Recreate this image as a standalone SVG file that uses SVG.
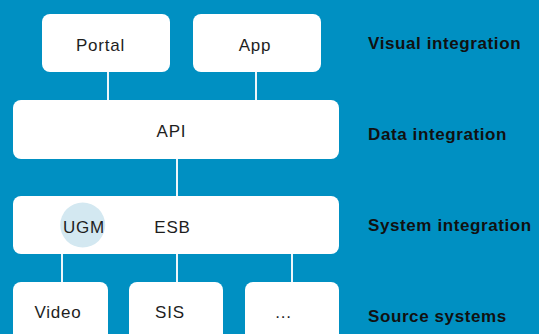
<svg xmlns="http://www.w3.org/2000/svg" width="539" height="334" viewBox="0 0 539 334">
<style>
.box{fill:#ffffff}
.t{font-family:"Liberation Sans",Arial,sans-serif;font-size:17px;fill:#1e1e1e;text-anchor:middle;letter-spacing:0.8px}
.lab{font-family:"Liberation Sans",Arial,sans-serif;font-size:17px;font-weight:bold;fill:#111111;letter-spacing:0.6px}
.con{stroke:#eef6fa;stroke-width:2;fill:none}
</style>
<rect width="539" height="334" fill="#0090c2"/>
<g id="connectors">
<line class="con" x1="108" y1="71" x2="108" y2="101"/>
<line class="con" x1="256" y1="71" x2="256" y2="101"/>
<line class="con" x1="177" y1="158" x2="177" y2="197"/>
<line class="con" x1="62" y1="253" x2="62" y2="283"/>
<line class="con" x1="177" y1="253" x2="177" y2="283"/>
<line class="con" x1="292" y1="253" x2="292" y2="283"/>
</g>
<g id="portal"><rect class="box" x="42" y="14" width="128" height="58" rx="8"/><text class="t" x="100.5" y="50.7">Portal</text></g>
<g id="app"><rect class="box" x="193" y="14" width="128" height="58" rx="8"/><text class="t" x="255" y="50.7">App</text></g>
<g id="api"><rect class="box" x="13" y="100" width="326" height="59" rx="8"/><text class="t" x="171.5" y="137.3">API</text></g>
<g id="esb"><rect class="box" x="13" y="196" width="326" height="58" rx="8"/><text class="t" x="172.5" y="232.7">ESB</text></g>
<g id="ugm"><circle cx="82.7" cy="225" r="22.5" fill="#d3e8f1"/><text class="t" x="84" y="232.7">UGM</text></g>
<g id="video"><rect class="box" x="13" y="282" width="95" height="70" rx="8"/><text class="t" x="58" y="318">Video</text></g>
<g id="sis"><rect class="box" x="129" y="282" width="94" height="70" rx="8"/><text class="t" x="170" y="318">SIS</text></g>
<g id="more"><rect class="box" x="245" y="282" width="94" height="70" rx="8"/><text class="t" x="283.5" y="318">...</text></g>
<g id="labels">
<text class="lab" x="368" y="49">Visual integration</text>
<text class="lab" x="368" y="140">Data integration</text>
<text class="lab" x="368" y="231">System integration</text>
<text class="lab" x="368" y="321.5">Source systems</text>
</g>
</svg>
